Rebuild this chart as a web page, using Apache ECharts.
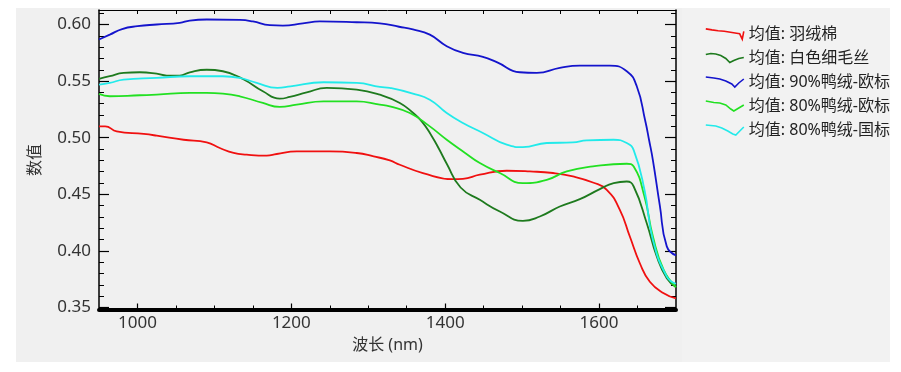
<!DOCTYPE html>
<html><head><meta charset="utf-8">
<script src="https://cdn.jsdelivr.net/npm/echarts@6/dist/echarts.min.js"></script>
<style>html,body{margin:0;padding:0;background:#fff;}#c{width:901px;height:372px;}</style>
</head><body><div id="c"></div>
<script>
// ---- data (wavelength nm, value) ----
const seriesNames = ['均值: 羽绒棉', '均值: 白色细毛丝', '均值: 90%鸭绒-欧标', '均值: 80%鸭绒-欧标', '均值: 80%鸭绒-国标'];
const downCotton = [[950,0.510],[958,0.510],[973,0.5056],[1008,0.5033],[1025,0.5018],[1060,0.4982],[1090,0.4958],[1107,0.4909],[1125,0.4865],[1142,0.485],[1168,0.4841],[1181,0.4856],[1207,0.4879],[1250,0.4879],[1285,0.4865],[1307,0.4835],[1328,0.4799],[1341,0.4761],[1371,0.4688],[1410,0.4634],[1423,0.4637],[1445,0.4673],[1480,0.4708],[1510,0.4702],[1540,0.4688],[1566,0.4658],[1592,0.4604],[1610,0.454],[1627,0.4363],[1640,0.4127],[1653,0.3891],[1666,0.3728],[1684,0.3626],[1700,0.358]];
const whiteFineHair = [[950,0.5519],[964,0.5543],[982,0.5572],[1003,0.5578],[1025,0.5566],[1038,0.5549],[1055,0.5549],[1068,0.5578],[1090,0.560],[1111,0.5587],[1137,0.5519],[1163,0.541],[1185,0.5345],[1198,0.536],[1220,0.540],[1246,0.544],[1285,0.5425],[1315,0.538],[1341,0.5307],[1358,0.522],[1370,0.514],[1382,0.502],[1392,0.490],[1402,0.477],[1420,0.456],[1445,0.4451],[1471,0.4348],[1501,0.4265],[1523,0.4304],[1549,0.4392],[1575,0.4457],[1601,0.4546],[1619,0.4599],[1636,0.4613],[1645,0.4569],[1662,0.4245],[1675,0.395],[1688,0.3758],[1700,0.368]];
const duck90EU = [[950,0.5867],[964,0.591],[980,0.596],[1000,0.5985],[1025,0.600],[1055,0.6015],[1068,0.6035],[1090,0.6044],[1133,0.604],[1150,0.6027],[1172,0.5994],[1189,0.599],[1215,0.601],[1237,0.6027],[1285,0.602],[1315,0.601],[1340,0.598],[1358,0.5956],[1380,0.591],[1402,0.5808],[1423,0.575],[1449,0.5714],[1467,0.5667],[1497,0.5578],[1519,0.5572],[1549,0.5617],[1575,0.5637],[1614,0.5637],[1636,0.5587],[1649,0.5454],[1660,0.515],[1665,0.498],[1670,0.480],[1679,0.440],[1688,0.404],[1700,0.396]];
const duck80EU = [[950,0.5387],[964,0.5366],[1003,0.5375],[1025,0.538],[1068,0.5396],[1090,0.5396],[1111,0.539],[1133,0.5366],[1163,0.5307],[1185,0.5272],[1207,0.5292],[1242,0.5321],[1285,0.5321],[1315,0.5292],[1328,0.5277],[1354,0.5218],[1380,0.510],[1402,0.4982],[1425,0.487],[1445,0.4776],[1471,0.4688],[1501,0.4599],[1532,0.4628],[1558,0.4702],[1592,0.4746],[1636,0.477],[1645,0.4746],[1659,0.448],[1670,0.4127],[1684,0.3832],[1700,0.368]];
const duck80CN = [[950,0.5469],[964,0.5484],[982,0.5513],[1025,0.5528],[1068,0.5543],[1111,0.5543],[1133,0.5528],[1155,0.5484],[1182,0.544],[1199,0.5454],[1242,0.549],[1285,0.5484],[1315,0.5449],[1328,0.544],[1358,0.539],[1380,0.5336],[1402,0.5218],[1423,0.513],[1449,0.5042],[1480,0.4938],[1501,0.4917],[1532,0.4953],[1566,0.4958],[1584,0.4976],[1619,0.4982],[1636,0.4953],[1645,0.489],[1659,0.454],[1670,0.4097],[1688,0.3773],[1700,0.371]];
const xTickLabels = [1000, 1200, 1400, 1600];
const xMinorTicks = [1000,1050,1100,1150,1200,1250,1300,1350,1400,1450,1500,1550,1600,1650];
const yTickLabels = [0.35, 0.40, 0.45, 0.50, 0.55, 0.60];
const yMinorTicks = [0.35,0.36,0.37,0.38,0.39,0.40,0.41,0.42,0.43,0.44,0.45,0.46,0.47,0.48,0.49,0.50,0.51,0.52,0.53,0.54,0.55,0.56,0.57,0.58,0.59,0.60,0.61];
const xName = '波长 (nm)';
const yName = '数值';

// ---- styling ----
const colors = ['#f01010', '#1e7a1e', '#1414cc', '#22e022', '#22eaea'];
const iconPts = [
  [[0,1],[6,2],[12,2.8],[18,3.3],[24,4.3],[30,5.3],[33,5.8],[35.5,11],[37,3.5]],
  [[0,3],[5,2],[10,2.5],[15,4],[20,7],[24,11],[28,9],[33,7],[38,6]],
  [[0,1],[8,2],[14,3],[20,5],[26,8],[29,11],[33,7],[38,3]],
  [[0,1],[8,2.5],[14,3],[20,5],[25,9],[28,11],[33,8],[38,5]],
  [[0,1],[10,2],[16,4],[22,7],[27,10],[30,11],[34,7],[38,3]]
];
function iconPath(pts){ return 'path://M' + pts.map(p => p[0] + ',' + p[1]).join('L'); }
const FONT = "'Noto Sans', 'Noto Sans CJK SC', sans-serif";
const XMIN = 950, XMAX = 1700, YMIN = 0.3478, YMAX = 0.6128;
const gridBox = { left: 99, right: 225, top: 10, bottom: 62 };

const chart = echarts.init(document.getElementById('c'), null, { renderer: 'canvas' });
const dataSets = [downCotton, whiteFineHair, duck90EU, duck80EU, duck80CN];

function xAx(gi, extra){ return Object.assign({ type:'value', gridIndex: gi, min: XMIN, max: XMAX, splitLine:{show:false}, axisLabel:{show:false}, axisTick:{show:false}, axisLine:{show:false} }, extra); }
function yAx(gi, extra){ return Object.assign({ type:'value', gridIndex: gi, min: YMIN, max: YMAX, splitLine:{show:false}, axisLabel:{show:false}, axisTick:{show:false}, axisLine:{show:false} }, extra); }

const option = {
  animation: false,
  textStyle: { fontFamily: FONT },
  graphic: { elements: [
    { type:'rect', z:-100, silent:true, shape:{ x:16, y:8, width:666, height:354 }, style:{ fill:'#f0f0f0' } },
    { type:'rect', z:-100, silent:true, shape:{ x:682, y:8, width:208, height:354 }, style:{ fill:'#f2f2f2' } }
  ]},
  grid: [0,1,2,3].map(() => Object.assign({ containLabel:false }, gridBox)),
  xAxis: [
    xAx(0, { position:'bottom',
      axisLine:{ show:true, onZero:false, lineStyle:{ color:'#000', width:4 } },
      axisTick:{ show:true, inside:true, length:4.5, customValues:xMinorTicks, lineStyle:{ color:'#000', width:1 } },
      axisLabel:{ show:true, customValues:xTickLabels, formatter: v => String(v), fontSize:17, color:'#333', margin:5, fontFamily: FONT },
      name: xName, nameLocation:'middle', nameGap:27, nameTextStyle:{ fontSize:16, color:'#333', fontFamily: FONT } }),
    xAx(1, { position:'bottom', axisTick:{ show:true, inside:true, length:6.5, customValues:xTickLabels, lineStyle:{ color:'#000', width:1.2 } } }),
    xAx(2, { position:'top', axisLine:{ show:true, onZero:false, lineStyle:{ color:'#000', width:1 } },
      axisTick:{ show:true, inside:true, length:4, customValues:xMinorTicks, lineStyle:{ color:'#000', width:1 } } }),
    xAx(3, { show:false })
  ],
  yAxis: [
    yAx(0, { position:'left',
      axisLine:{ show:true, onZero:false, lineStyle:{ color:'#000', width:1.5 } },
      axisTick:{ show:true, inside:true, length:5, customValues:yMinorTicks, lineStyle:{ color:'#000', width:1 } },
      axisLabel:{ show:true, customValues:yTickLabels, formatter: v => v.toFixed(2), fontSize:17, color:'#333', margin:8, fontFamily: FONT },
      name: yName, nameLocation:'middle', nameGap:56, nameTextStyle:{ fontSize:16, color:'#333', fontFamily: FONT } }),
    yAx(1, { position:'left', axisTick:{ show:true, inside:true, length:10, customValues:yTickLabels, lineStyle:{ color:'#000', width:1.2 } } }),
    yAx(2, { position:'right', axisLine:{ show:true, onZero:false, lineStyle:{ color:'#000', width:1.5 } },
      axisTick:{ show:true, inside:true, length:5, customValues:yMinorTicks, lineStyle:{ color:'#000', width:1 } } }),
    yAx(3, { position:'right', axisTick:{ show:true, inside:true, length:11, customValues:yTickLabels, lineStyle:{ color:'#000', width:1.2 } } })
  ],
  legend: {
    orient:'vertical', left:700, top:21, itemWidth:38, itemHeight:12, itemGap:8,
    textStyle:{ fontSize:16, color:'#222', lineHeight:16, fontFamily: FONT },
    data: seriesNames.map((n, i) => ({ name:n, icon: iconPath(iconPts[i]),
      itemStyle:{ color:'transparent', borderColor: colors[i], borderWidth:1.6 } }))
  },
  series: seriesNames.map((n, i) => ({
    name: n, type:'line', xAxisIndex:0, yAxisIndex:0, data: dataSets[i],
    showSymbol:false, symbol:'none', smooth:0.5,
    lineStyle:{ color: colors[i], width:1.8 }, itemStyle:{ color: colors[i] }
  }))
};
chart.setOption(option);
</script></body></html>
